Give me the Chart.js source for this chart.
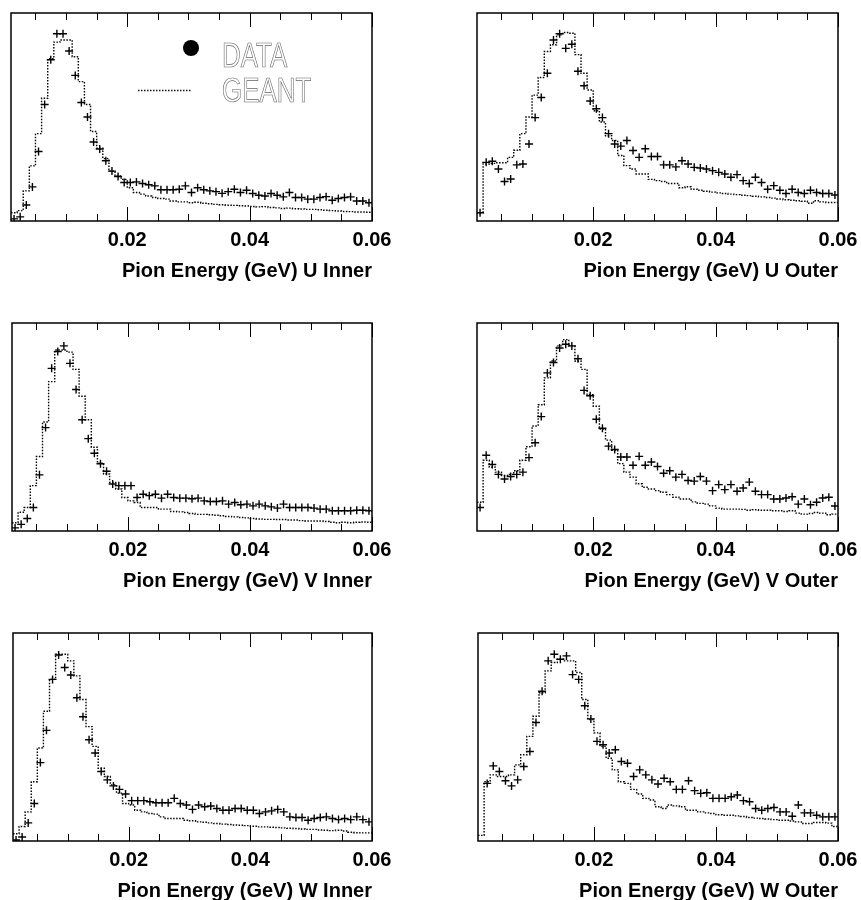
<!DOCTYPE html>
<html>
<head>
<meta charset="utf-8">
<script src="https://cdn.jsdelivr.net/npm/chart.js"></script>
<style>
  html, body { margin: 0; padding: 0; background: #fff; }
  #page { position: relative; width: 861px; height: 900px; background: #fff; overflow: hidden; }
  #page canvas { position: absolute; }
</style>
</head>
<body>
<div id="page">
  <canvas id="uInner" width="408" height="282" style="left:0px;top:3px"></canvas>
  <canvas id="uOuter" width="434" height="282" style="left:440px;top:3px"></canvas>
  <canvas id="vInner" width="408" height="282" style="left:0px;top:313px"></canvas>
  <canvas id="vOuter" width="434" height="282" style="left:440px;top:313px"></canvas>
  <canvas id="wInner" width="408" height="282" style="left:0px;top:623px"></canvas>
  <canvas id="wOuter" width="434" height="282" style="left:440px;top:623px"></canvas>
</div>
<script>
// ---------------- data ----------------
// histogram bin edges (GeV), 59 bins of 1 MeV
const BIN_EDGES = [0.001,0.002,0.003,0.004,0.005,0.006,0.007,0.008,0.009,0.010,
  0.011,0.012,0.013,0.014,0.015,0.016,0.017,0.018,0.019,0.020,
  0.021,0.022,0.023,0.024,0.025,0.026,0.027,0.028,0.029,0.030,
  0.031,0.032,0.033,0.034,0.035,0.036,0.037,0.038,0.039,0.040,
  0.041,0.042,0.043,0.044,0.045,0.046,0.047,0.048,0.049,0.050,
  0.051,0.052,0.053,0.054,0.055,0.056,0.057,0.058,0.059,0.060];

// x axis tick positions and labelled ticks
const X_TICKS = [0.005,0.010,0.015,0.020,0.025,0.030,0.035,0.040,0.045,0.050,0.055,0.060];
const X_LABELS = ['0.02','0.04','0.06'];

const SERIES_NAMES = ['DATA', 'GEANT'];

// U Inner
const dataUInner = [1,2,7.7,16.4,33.4,56,77.5,90,90,81.7,
  70,57,50,38,34.6,29,24,21.4,18.5,18.5,
  18.8,18,17.4,16.9,15,15,15,15.3,16.9,13.7,
  16,15,14.5,14.1,13.3,14.1,15.3,13.7,14.8,13.2,
  12.4,12,13.2,12.4,11.6,13.7,11.3,11.3,10.5,10.5,
  11.3,11.7,10,10.8,11.3,11.6,9.6,9.6,8.8];
const geantUInner = [4,5,14.5,26.5,42,59,78,86,87,87,
  79,67,56,43,35,30,24,21.7,20,16,
  13.7,12.9,12,11.3,10.8,10.5,9.6,9.2,9.2,8.8,
  9.0,8.5,8.3,8.0,7.8,7.6,7.5,7.3,7.2,7.0,
  6.8,6.9,6.5,6.3,6.0,6.2,5.9,5.8,5.6,5.6,
  5.4,5.2,5.0,4.8,4.6,4.5,4.3,4.3,4.2];

// U Outer
const dataUOuter = [4,28.2,28.7,25,19,20.2,27,27.4,37,49.7,
  59.4,71,87,90,83,85,72,65,57.7,54,
  49.7,42,37,36,38.7,33.9,30.6,34.7,31,31,
  27,27,26,29,27.4,25.8,25.5,25,24.2,23.4,
  22.6,21,22.3,19.4,18,21,18.5,15.3,17,14.8,
  13.2,15.3,13.7,13.2,14.8,13.7,13.2,13.2,12.5];
const geantUOuter = [4,27.4,27.7,28,28,30.6,34,42,50,60.5,
  69,81.5,84.7,89.5,90.6,90.3,80,71,63,53,
  47.6,41,38.7,31.5,26.6,25,22.6,22.6,20,19.4,
  19,18,18,16,16.5,15.3,14.8,14.3,13.9,13.5,
  13.2,12.9,12.7,12.4,12.2,11.9,11.6,11.3,11.0,10.6,
  10.2,10.0,9.7,9.5,8.5,9.7,9.2,8.9,8.9];

// V Inner
const dataVInner = [1.5,3.2,6,11.3,27,49.7,78.2,86.3,89,80.6,
  68,53.5,44.4,37.4,32.3,28.7,22.6,21.8,21.8,21.8,
  16.1,17.7,17,17.7,15.8,17.7,16.1,15.8,15.8,15.5,
  15.8,14.5,14.2,14.2,14.5,12.9,13.7,12.6,12.9,12.1,
  12.9,12.1,11.6,11,12.9,11.3,11.3,11.3,11.3,11,
  10.5,10.5,9.7,9.7,9.7,9.7,10,10,9.7];
const geantVInner = [4,9,11.3,21.8,35.8,52.4,71.8,87,87,86,
  77.7,64.8,53.5,40.3,32.6,27.4,23.4,20.2,16.1,14.5,
  13.7,11.3,11.3,11.3,10.5,10.5,9.4,9.2,8.9,8.4,
  8,8,7.8,7.6,7.3,7,6.8,6.5,6.3,6,
  5.8,5.6,5.6,5.5,5.5,5.3,5.3,5.0,4.8,4.8,
  4.8,4.6,4.2,4.0,4.2,4.0,4.2,4.3,4.2];

// V Outer
const dataVOuter = [11.3,36.4,32,27.2,25,26.2,27.2,28.3,35.3,42.4,
  55,76,81,88,89.8,89,82.8,67.6,65,53.7,
  49.4,40.8,39.2,35.6,35.6,31.6,35.9,31.6,33.2,31,
  27.8,29,25.9,27.2,24.3,24,26.2,24,19.4,22.3,
  19.9,22.3,19.1,20.7,23.5,19.1,17.5,17.5,15.4,15.4,
  15.9,16.5,12.9,15.4,12.6,13.8,15.9,16.2,12];
const geantVOuter = [13.8,34,30.7,28.3,26.7,27.2,29,34,40.5,50.5,
  60.7,73.6,81.7,89,92,89,81.7,77.7,65.5,60,
  49,43.7,38.8,32.4,28.3,25.9,22.7,21,20.2,19.4,
  18.6,17.5,16.2,15.4,15.4,14,13.3,12.9,12.1,11,
  10.5,10.5,10.5,10.4,10,10.2,10,10,9.7,9.7,
  9.4,9.7,8.6,8.1,8.4,8.9,8.6,7.8,8.1];

// W Inner
const dataWInner = [0.5,1.9,8.7,18,37.7,53.2,77.7,89.4,83.4,79.8,
  68.9,59.7,48.7,42.3,33.4,29.4,26.5,24.8,22.6,19.4,
  19.4,19.4,18.9,18.4,18.4,18.4,20.5,18,17.3,15.2,
  17.3,16.5,16.8,15.6,14.8,14.8,15.6,15.6,14.8,14.8,
  13.2,14,14.5,15.2,14,11.6,11.3,11.3,10,10.8,
  11.3,11.6,10.8,10.3,10.8,10.3,11.6,10.3,9.2];
const geantWInner = [3.5,7,14,28.5,44.7,62.4,77.7,89.8,89.8,86.6,
  79.4,68,55,45.5,35,31,27,23,18,17.3,
  14.8,14,13.2,12.9,11.6,10.8,10.8,10.8,10,9.7,
  9.2,9.0,8.7,8.4,8.1,7.9,7.7,7.6,7.4,7.1,
  6.8,6.8,6.6,6.5,6.3,6.1,6.0,5.8,5.6,5.6,
  5.3,5.2,5.0,5.2,4.8,4.2,4.0,3.9,3.9];

// W Outer
const dataWOuter = [null,27.7,36.1,33.4,29,26.5,29.4,35.8,43,57,
  72,86.6,89.8,87.4,89,80,77.7,65,58.7,47.9,
  46.3,42.3,43.9,38.2,37.4,31,34.2,31.8,29.4,27.4,
  30.2,28.5,24.8,24.8,29,24.2,22.9,23.2,20.5,20.5,
  20.5,21.3,22.1,19.4,18.9,15.6,14.8,15.6,16.1,14,
  14,11.9,17.3,13.5,13.5,12.4,11.6,11.6,11.6];
const geantWOuter = [2.7,28.5,31.8,31,31,31.8,36.6,41.5,50.3,60,
  71.3,81.8,85.8,87.4,86.6,86.6,81,68,58.4,52,
  45.5,39.8,34.2,28.5,27.7,24.8,22.6,20.5,19.7,16.5,
  15.6,17.3,16.9,16.5,14.8,14.8,14,13.5,13.2,12.6,
  12.4,12.4,12.1,11.8,11.3,11,10.8,10.6,10.3,10,
  10,9.6,9.2,8.4,8.4,8.9,8.9,8.6,7];

const PANELS = [
  { canvas: 'uInner', title: 'Pion Energy (GeV) U Inner', data: dataUInner, geant: geantUInner, padLeft: 11, legend: true },
  { canvas: 'uOuter', title: 'Pion Energy (GeV) U Outer', data: dataUOuter, geant: geantUOuter, padLeft: 37 },
  { canvas: 'vInner', title: 'Pion Energy (GeV) V Inner', data: dataVInner, geant: geantVInner, padLeft: 12 },
  { canvas: 'vOuter', title: 'Pion Energy (GeV) V Outer', data: dataVOuter, geant: geantVOuter, padLeft: 37 },
  { canvas: 'wInner', title: 'Pion Energy (GeV) W Inner', data: dataWInner, geant: geantWInner, padLeft: 13 },
  { canvas: 'wOuter', title: 'Pion Energy (GeV) W Outer', data: dataWOuter, geant: geantWOuter, padLeft: 38 }
];

// ---------------- helpers ----------------
const FONT = '"Liberation Sans", Arial, Helvetica, sans-serif';
Chart.defaults.font.family = FONT;
Chart.defaults.color = '#000';

function tickLabel(v) {
  const s = v.toFixed(2);
  return (X_LABELS.includes(s) && Math.abs(v * 100 - Math.round(v * 100)) < 1e-6) ? s : '';
}
function isMajor(v) { return tickLabel(v) !== ''; }

const histFrame = {
  id: 'histFrame',
  afterDatasetsDraw(chart) {
    const { ctx, chartArea: a, scales: { x } } = chart;
    ctx.save();
    ctx.strokeStyle = '#000';
    ctx.lineWidth = 1;
    x.ticks.forEach(t => {
      const px = Math.round(x.getPixelForValue(t.value)) + 0.5;
      const len = isMajor(t.value) ? 14 : 7;
      ctx.beginPath();
      ctx.moveTo(px, a.bottom); ctx.lineTo(px, a.bottom - len);
      ctx.moveTo(px, a.top); ctx.lineTo(px, a.top + len);
      ctx.stroke();
    });
    ctx.lineWidth = 1.5;
    ctx.strokeRect(a.left, a.top, a.right - a.left, a.bottom - a.top);
    ctx.restore();
  }
};

const cornerLegend = {
  id: 'cornerLegend',
  afterDatasetsDraw(chart, args, opts) {
    if (!opts || !opts.show) return;
    const { ctx, chartArea: a } = chart;
    const ds = chart.data.datasets;
    ctx.save();
    // marker for DATA
    ctx.fillStyle = '#000';
    ctx.beginPath();
    ctx.arc(a.left + 180, a.top + 35, 8, 0, Math.PI * 2);
    ctx.fill();
    // dotted line for GEANT
    ctx.strokeStyle = '#111';
    ctx.lineWidth = 1.3;
    ctx.setLineDash([1.5, 1.5]);
    ctx.beginPath();
    ctx.moveTo(a.left + 127, a.top + 77.5);
    ctx.lineTo(a.left + 181, a.top + 77.5);
    ctx.stroke();
    ctx.setLineDash([]);
    // outlined labels
    ctx.font = '35px ' + FONT;
    ctx.textBaseline = 'alphabetic';
    ctx.textAlign = 'left';
    ctx.strokeStyle = '#666';
    ctx.lineWidth = 0.7;
    const rows = [[ds[0].label, a.top + 54], [ds[1].label, a.top + 89]];
    rows.forEach(([txt, y]) => {
      ctx.save();
      ctx.translate(a.left + 211, y);
      ctx.scale(0.74, 1);
      ctx.strokeText(txt, 0, 0);
      ctx.restore();
    });
    ctx.restore();
  }
};

function buildPanel(p) {
  const centers = p.data.map((v, i) => ({ x: (BIN_EDGES[i] + BIN_EDGES[i + 1]) / 2, y: v }));
  const steps = p.geant.map((v, i) => ({ x: BIN_EDGES[i], y: v }));
  steps.push({ x: BIN_EDGES[BIN_EDGES.length - 1], y: p.geant[p.geant.length - 1] });

  new Chart(document.getElementById(p.canvas), {
    type: 'line',
    data: {
      datasets: [
        {
          label: SERIES_NAMES[0],
          data: centers,
          showLine: false,
          pointStyle: 'cross',
          pointRadius: 4,
          pointBorderWidth: 1.4,
          pointBorderColor: '#000',
          pointBackgroundColor: '#000'
        },
        {
          label: SERIES_NAMES[1],
          data: steps,
          stepped: 'before',
          borderColor: '#000',
          borderWidth: 1.4,
          borderDash: [1.5, 1.5],
          pointRadius: 0,
          fill: false
        }
      ]
    },
    options: {
      responsive: false,
      animation: false,
      events: [],
      layout: { padding: { left: p.padLeft, top: 10, right: 36, bottom: 2 } },
      plugins: {
        legend: { display: false },
        tooltip: { enabled: false },
        cornerLegend: { show: !!p.legend }
      },
      scales: {
        x: {
          type: 'linear',
          position: 'bottom',
          min: BIN_EDGES[0],
          max: BIN_EDGES[BIN_EDGES.length - 1],
          grid: { display: false, drawTicks: false },
          border: { display: false },
          afterBuildTicks: (s) => { s.ticks = X_TICKS.map(v => ({ value: v })); },
          ticks: {
            autoSkip: false,
            maxRotation: 0,
            padding: 8,
            color: '#000',
            font: { family: FONT, size: 20, weight: 'bold', lineHeight: 1.15 },
            callback: (v) => tickLabel(v)
          },
          title: {
            display: true,
            text: p.title,
            align: 'end',
            color: '#000',
            font: { family: FONT, size: 20, weight: 'bold', lineHeight: 1.15 },
            padding: { top: 0, bottom: 0 }
          }
        },
        y: { display: false, min: 0, max: 100 }
      }
    },
    plugins: [histFrame, cornerLegend]
  });
}

PANELS.forEach(buildPanel);
</script>
</body>
</html>
